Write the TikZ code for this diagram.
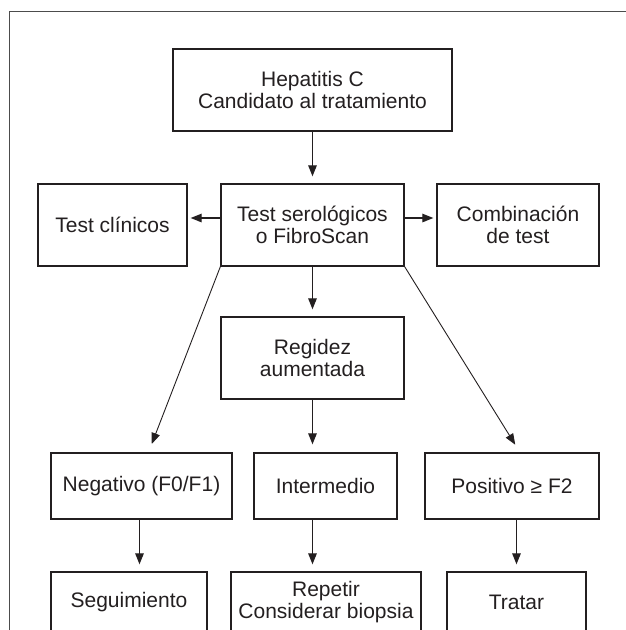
\documentclass[tikz,border=0pt]{standalone}
\usepackage{fontspec}
\setmainfont{Liberation Sans}
\usetikzlibrary{arrows.meta}
\definecolor{ink}{RGB}{35,31,32}
\begin{document}
\begin{tikzpicture}[x=1pt,y=-1pt,
  bx/.style={draw=ink, line width=1.3pt, rectangle, align=center, inner sep=0pt,
    text=ink, font=\fontsize{21}{22}\selectfont},
  arr/.style={draw=ink, line width=1.2pt, -{Triangle[length=11pt,width=8.5pt]}},
  diag/.style={draw=ink, line width=0.9pt, -{Triangle[length=11pt,width=8.5pt]}}]
\useasboundingbox (0,0) rectangle (626,630);
\clip (0,0) rectangle (626,630);
\draw[line width=0.9pt, draw=black!70] (9,640) -- (9,11) -- (640,11);
% row 1
\node[bx, minimum width=279pt, minimum height=82pt] (top) at (312.5,90) {Hepatitis C\\Candidato al tratamiento};
% row 2
\node[bx, minimum width=149pt, minimum height=82pt] (clin) at (112.5,225) {Test clínicos};
\node[bx, minimum width=183pt, minimum height=82pt] (sero) at (312.5,225) {Test serológicos\\o FibroScan};
\node[bx, minimum width=162pt, minimum height=82pt] (comb) at (518,225) {Combinación\\de test};
% middle
\node[bx, minimum width=183pt, minimum height=82pt] (reg) at (312.5,358) {Regidez\\aumentada};
% row 3
\node[bx, minimum width=181pt, minimum height=66pt] (neg) at (141.5,486) {Negativo (F0/F1)};
\node[bx, minimum width=143pt, minimum height=66pt] (inter) at (325.5,486) {Intermedio};
\node[bx, minimum width=174pt, minimum height=66pt] (pos) at (512,486) {Positivo ≥ F2};
% row 4
\node[bx, minimum width=156pt, minimum height=60pt] (seg) at (129,602) {Seguimiento};
\node[bx, minimum width=190pt, minimum height=60pt] (rep) at (326,602) {Repetir\\Considerar biopsia};
\node[bx, minimum width=139pt, minimum height=60pt] (trat) at (516.5,602) {Tratar};
% connectors
\draw[arr, shorten >=7pt] (top.south) -- (sero.north);
\draw[arr, shorten >=3pt] ([yshift=7pt]sero.west) -- ([yshift=7pt]clin.east);
\draw[arr, shorten >=3pt] ([yshift=7pt]sero.east) -- ([yshift=7pt]comb.west);
\draw[arr, shorten >=7pt] (sero.south) -- (reg.north);
\draw[diag, shorten >=9pt] (sero.south west) -- ([xshift=7pt]neg.north);
\draw[diag, shorten >=9pt] (sero.south east) -- ([xshift=8pt]pos.north);
\draw[arr, shorten >=8pt] (reg.south) -- (reg.south |- inter.north);
\draw[arr, shorten >=7pt] ([xshift=-2pt]neg.south) -- ([xshift=-2pt]neg.south |- seg.north);
\draw[arr, shorten >=7pt] (reg.south |- inter.south) -- (reg.south |- rep.north);
\draw[arr, shorten >=7pt] (trat.north |- pos.south) -- (trat.north);
\end{tikzpicture}
\end{document}
